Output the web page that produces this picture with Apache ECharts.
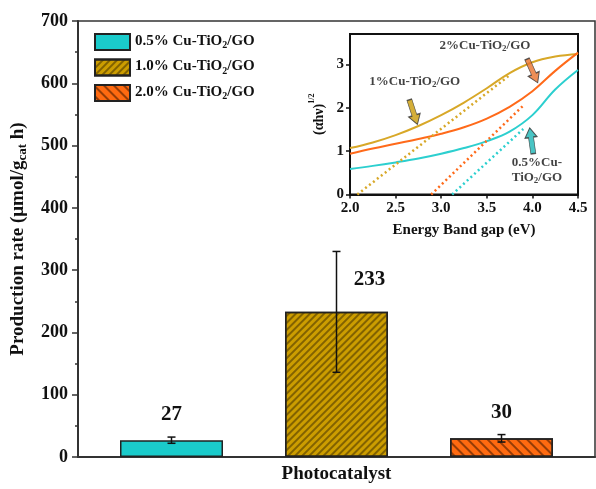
<!DOCTYPE html>
<html>
<head>
<meta charset="utf-8">
<script src="https://cdn.jsdelivr.net/npm/echarts@6/dist/echarts.min.js"></script>
<style>
html, body { margin: 0; padding: 0; background: #fff; }
#chart { width: 596px; height: 489px; }
</style>
</head>
<body>
<div id="chart"></div>
<script>
var FONT = '"Liberation Serif", "Times New Roman", serif';

// main bar chart
var samples = ['0.5% Cu-TiO2/GO', '1.0% Cu-TiO2/GO', '2.0% Cu-TiO2/GO'];
var category = ['Photocatalyst'];
var rates = [27, 233, 30];
var rateErrors = [5, 97, 6];

// inset: Tauc plot
var energy = [2.0, 2.25, 2.5, 2.75, 3.0, 3.25, 3.5, 3.75, 4.0, 4.25, 4.5];
var tauc05 = [0.59, 0.66, 0.74, 0.83, 0.94, 1.07, 1.23, 1.45, 1.83, 2.42, 2.87];
var tauc10 = [1.07, 1.2, 1.37, 1.58, 1.83, 2.12, 2.45, 2.8, 3.05, 3.18, 3.24];
var tauc20 = [0.94, 1.06, 1.17, 1.28, 1.4, 1.55, 1.75, 2.02, 2.38, 2.85, 3.27];
var fit05 = [[3.12, 0], [3.9, 1.51]];
var fit10 = [[2.08, 0], [3.75, 2.75]];
var fit20 = [[2.89, 0], [3.9, 2.05]];

// inset annotations (data coordinates)
var noteTexts = ['1%Cu-TiO2/GO', '2%Cu-TiO2/GO', '0.5%Cu-\nTiO2/GO'];
var notePoints = [[2.71, 2.59], [3.48, 3.42], [4.05, 0.55]];
var arrowPoints = [[2.695, 1.9], [4.0, 2.85], [3.99, 1.24]];
var arrowAngles = [-162, -156, 8];

var colors = ['#1ACBCB', '#CC9D00', '#FF6A10'];
var lineColors = ['#2CCFCF', '#D8A828', '#FF6A1A'];
var arrowColors = ['#C99A06', '#E8722C', '#1BB5B5'];

var BAR_W = 103;
var BAR_GAP = 62;

function subRich(s) {
    return s.split('\n').map(function (line) {
        return line.replace(/^(.*O)2(.*)$/, '{a|$1}{s|2}{a|$2}').replace(/^([^{].*)$/, '{a|$1}');
    }).join('\n');
}

function richStyle(size, subSize, shift) {
    return {
        a: { fontFamily: FONT, fontWeight: 'bold', fontSize: size, color: '#111', verticalAlign: 'top', lineHeight: size + 2 },
        s: { fontFamily: FONT, fontWeight: 'bold', fontSize: subSize, color: '#111', verticalAlign: 'top', lineHeight: size + 2, padding: [shift, 0, 0, 0] }
    };
}

var decals = [
    null,
    { symbol: 'rect', dashArrayX: [1, 0], dashArrayY: [1.5, 3], rotation: -Math.PI / 4, color: 'rgba(70,50,0,0.55)' },
    { symbol: 'rect', dashArrayX: [1, 0], dashArrayY: [1.5, 5], rotation: Math.PI / 4, color: 'rgba(80,30,0,0.6)' }
];
var labelOffsets = [[0, 0], [33, -7], [0, 0]];

var barSeries = samples.map(function (name, i) {
    var item = {
        value: rates[i],
        label: { offset: labelOffsets[i] }
    };
    var st = { color: colors[i], borderColor: '#222', borderWidth: 1.5 };
    if (decals[i]) st.decal = decals[i];
    return {
        name: name,
        type: 'bar',
        xAxisIndex: 0, yAxisIndex: 0,
        barWidth: BAR_W,
        barGap: (BAR_GAP / BAR_W * 100) + '%',
        itemStyle: st,
        label: {
            show: true, position: 'top', distance: 15,
            fontFamily: FONT, fontWeight: 'bold', fontSize: 21, color: '#111'
        },
        data: [item]
    };
});

var errData = rates.map(function (v, i) { return [0, v - rateErrors[i], v + rateErrors[i], i]; });

var errSeries = {
    type: 'custom',
    xAxisIndex: 0, yAxisIndex: 0,
    silent: true,
    z: 5,
    renderItem: function (params, api) {
        var k = api.value(3);
        var dx = (k - 1) * (BAR_W + BAR_GAP);
        var lo = api.coord([api.value(0), api.value(1)]);
        var hi = api.coord([api.value(0), api.value(2)]);
        var x = lo[0] + dx;
        var cap = 4;
        var st = { stroke: '#111', lineWidth: 1.5 };
        return {
            type: 'group',
            children: [
                { type: 'line', shape: { x1: x, y1: lo[1], x2: x, y2: hi[1] }, style: st },
                { type: 'line', shape: { x1: x - cap, y1: lo[1], x2: x + cap, y2: lo[1] }, style: st },
                { type: 'line', shape: { x1: x - cap, y1: hi[1], x2: x + cap, y2: hi[1] }, style: st }
            ]
        };
    },
    data: errData
};

function zipXY(xs, ys) { return xs.map(function (x, i) { return [x, ys[i]]; }); }

var taucCurves = [tauc05, tauc10, tauc20].map(function (ys, i) {
    return {
        type: 'line', xAxisIndex: 1, yAxisIndex: 1,
        smooth: 0.4, symbol: 'none', silent: true,
        lineStyle: { color: lineColors[i], width: 2 },
        data: zipXY(energy, ys)
    };
});

var fitLines = [fit05, fit10, fit20].map(function (pts, i) {
    return {
        type: 'line', xAxisIndex: 1, yAxisIndex: 1,
        symbol: 'none', silent: true,
        lineStyle: { color: lineColors[i], width: 2.5, type: [2, 3] },
        data: pts
    };
});

var arrowSeries = {
    type: 'scatter', xAxisIndex: 1, yAxisIndex: 1, silent: true, z: 10,
    symbol: 'path://M6,0 L12,10 L8.5,10 L8.5,27 L3.5,27 L3.5,10 L0,10 Z',
    symbolSize: [12, 26],
    data: arrowPoints.map(function (p, i) {
        return {
            value: p,
            symbolRotate: arrowAngles[i],
            itemStyle: { color: arrowColors[i], borderColor: '#333', borderWidth: 1 }
        };
    })
};

var noteSeries = {
    type: 'scatter', xAxisIndex: 1, yAxisIndex: 1, silent: true, z: 11,
    symbolSize: 0,
    label: {
        show: true, position: 'inside', align: 'center',
        formatter: function (p) { return subRich(noteTexts[p.dataIndex]); },
        rich: richStyle(13, 9, 6)
    },
    data: notePoints
};

var chart = echarts.init(document.getElementById('chart'));

chart.setOption({
    animation: false,
    backgroundColor: '#fff',
    legend: {
        data: samples,
        orient: 'vertical',
        left: 89, top: 28,
        itemWidth: 35, itemHeight: 16, itemGap: 7.5,
        icon: 'rect',
        formatter: function (name) { return subRich(name); },
        textStyle: { rich: richStyle(15, 10, 7) }
    },
    grid: [
        { left: 78, right: 1, top: 21, bottom: 32, show: true, borderColor: '#333', borderWidth: 1.5 },
        { left: 350, top: 34, width: 228, height: 160.5, show: true, borderColor: '#111', borderWidth: 2 }
    ],
    xAxis: [
        {
            type: 'category', gridIndex: 0, data: category,
            axisLine: { lineStyle: { color: '#333', width: 2 } },
            axisTick: { show: false },
            axisLabel: { margin: 8, fontFamily: FONT, fontWeight: 'bold', fontSize: 19, color: '#111' }
        },
        {
            type: 'value', gridIndex: 1, min: 2, max: 4.5, interval: 0.5,
            name: 'Energy Band gap (eV)', nameLocation: 'middle', nameGap: 28,
            nameTextStyle: { fontFamily: FONT, fontWeight: 'bold', fontSize: 15, color: '#111' },
            splitLine: { show: false },
            axisLine: { lineStyle: { color: '#111', width: 2 } },
            axisTick: { inside: false, length: 4, lineStyle: { color: '#111', width: 1.5 } },
            axisLabel: {
                margin: 6, fontFamily: FONT, fontWeight: 'bold', fontSize: 15, color: '#111',
                formatter: function (v) { return v.toFixed(1); }
            }
        }
    ],
    yAxis: [
        {
            type: 'value', gridIndex: 0, min: 0, max: 700, interval: 100,
            name: '{a|Production rate (μmol/g}{s|cat}{a| h)}',
            nameLocation: 'middle', nameGap: 48,
            nameTextStyle: { rich: richStyle(19, 13, 7) },
            splitLine: { show: false },
            axisLine: { show: true, lineStyle: { color: '#333', width: 2 } },
            axisTick: { show: true, length: 6, lineStyle: { color: '#333', width: 1.5 } },
            minorTick: { show: true, splitNumber: 2, length: 3, lineStyle: { color: '#333', width: 1.5 } },
            axisLabel: { margin: 10, fontFamily: FONT, fontWeight: 'bold', fontSize: 18, color: '#111' }
        },
        {
            type: 'value', gridIndex: 1, min: 0, max: 3.7,
            name: '{a|(αhν)}{s|1/2}',
            nameLocation: 'middle', nameGap: 26,
            nameTextStyle: {
                rich: {
                    a: { fontFamily: FONT, fontWeight: 'bold', fontSize: 14, color: '#111', verticalAlign: 'top', lineHeight: 16, padding: [4, 0, 0, 0] },
                    s: { fontFamily: FONT, fontWeight: 'bold', fontSize: 8, color: '#111', verticalAlign: 'top', lineHeight: 10 }
                }
            },
            splitLine: { show: false },
            axisLine: { show: true, lineStyle: { color: '#111', width: 2 } },
            axisTick: { length: 4, customValues: [0, 1, 2, 3], lineStyle: { color: '#111', width: 1.5 } },
            axisLabel: { margin: 6, customValues: [0, 1, 2, 3], fontFamily: FONT, fontWeight: 'bold', fontSize: 15, color: '#111' }
        }
    ],
    series: barSeries.concat([errSeries]).concat(taucCurves).concat(fitLines).concat([arrowSeries, noteSeries])
});
</script>
</body>
</html>
